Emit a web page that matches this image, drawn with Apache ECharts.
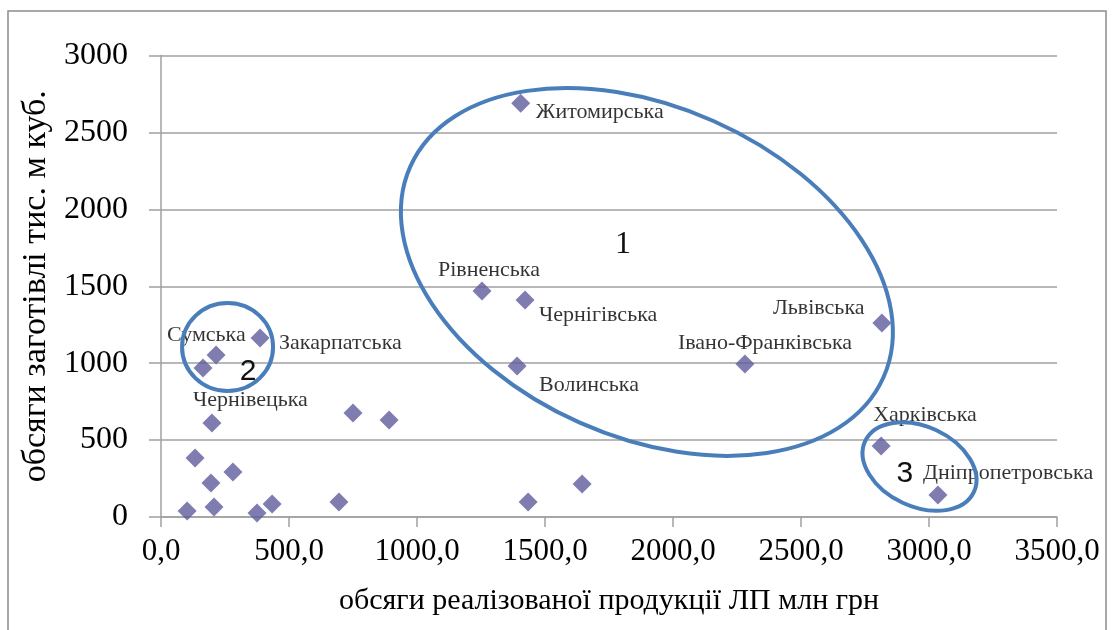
<!DOCTYPE html>
<html>
<head>
<meta charset="utf-8">
<script src="https://cdn.jsdelivr.net/npm/echarts@6/dist/echarts.min.js"></script>
<style>
  html, body { margin: 0; padding: 0; background: #fff; }
  #chart { width: 1112px; height: 630px; }
</style>
</head>
<body>
<div id="chart"></div>
<script>
// регіони (порожнє ім'я - без підпису)
const regionNames = [
  'Житомирська', 'Рівненська', 'Чернігівська', 'Волинська', 'Івано-Франківська', 'Львівська',
  'Закарпатська', 'Сумська', 'Чернівецька', '', '', '',
  '', '', '', '', '', '',
  '', '', '', '', 'Харківська', 'Дніпропетровська'
]
// обсяги реалізованої продукції ЛП, млн грн
const salesVolume = [
  1405, 1254, 1422, 1391, 2281, 2816,
  387, 215, 164, 199, 750, 891,
  133, 281, 195, 102, 207, 375,
  434, 695, 1434, 1645, 2813, 3035
]
// обсяги заготівлі, тис. м куб.
const harvestVolume = [
  2690, 1469, 1411, 982, 995, 1261,
  1164, 1053, 969, 611, 676, 631,
  384, 293, 221, 39, 65, 26,
  85, 98, 98, 215, 462, 143
]
const xTicks = { min: 0, max: 3500, step: 500 }
const yTicks = { min: 0, max: 3000, step: 500 }

// зсув підписів відносно точки (px)
const labelOffset = {
  'Житомирська': [15, 9],
  'Рівненська': [-44, -21],
  'Чернігівська': [14, 15],
  'Волинська': [22, 19],
  'Івано-Франківська': [-67, -21],
  'Львівська': [-109, -15],
  'Закарпатська': [19, 5],
  'Сумська': [-49, -20],
  'Чернівецька': [-10, 32],
  'Харківська': [-8, -31],
  'Дніпропетровська': [-15, -22]
}

// групи (центр у координатах даних), кут - за годинниковою стрілкою
const groups = [
  { text: '1', center: [1898, 1593], textAt: [1805, 1768], rx: 259, ry: 165, angle: 24, font: 'Liberation Serif', size: 32 },
  { text: '2', center: [260, 1105], textAt: [340, 943], rx: 45.5, ry: 44, angle: 0, font: 'Liberation Sans', size: 30 },
  { text: '3', center: [2963, 328], textAt: [2906, 280], rx: 60, ry: 40, angle: 25, font: 'Liberation Sans', size: 30 }
]

const serif = '"Liberation Serif", "DejaVu Serif", serif'
const gridColor = '#a0a0a0'

const points = salesVolume.map((x, i) => {
  const name = regionNames[i]
  const item = { name, value: [x, harvestVolume[i]] }
  if (name) {
    item.label = { show: true, offset: labelOffset[name] || [10, 0] }
  }
  return item
})

const chart = echarts.init(document.getElementById('chart'))

chart.setOption({
  animation: false,
  grid: { left: 161, right: 55, top: 55.5, bottom: 113 },
  xAxis: {
    type: 'value',
    min: xTicks.min, max: xTicks.max, interval: xTicks.step,
    name: 'обсяги реалізованої продукції ЛП млн грн',
    nameLocation: 'middle',
    nameGap: 69,
    nameTextStyle: { fontFamily: serif, fontSize: 30, color: '#000', verticalAlign: 'top' },
    axisLine: { show: true, lineStyle: { color: gridColor, width: 1.5 } },
    axisTick: { show: true, length: 10, lineStyle: { color: gridColor, width: 1.5 } },
    splitLine: { show: false },
    axisLabel: {
      margin: 19,
      fontFamily: serif, fontSize: 31, color: '#000',
      formatter: v => v.toFixed(1).replace('.', ',')
    }
  },
  yAxis: {
    type: 'value',
    min: yTicks.min, max: yTicks.max, interval: yTicks.step,
    name: 'обсяги заготівлі тис. м куб.',
    nameLocation: 'middle',
    nameRotate: 90,
    nameGap: 108,
    nameTextStyle: { fontFamily: serif, fontSize: 34, color: '#000' },
    axisLine: { show: true, lineStyle: { color: gridColor, width: 1.5 } },
    axisTick: { show: true, length: 12, lineStyle: { color: gridColor, width: 1.5 } },
    splitLine: { show: true, lineStyle: { color: gridColor, width: 1.5 } },
    axisLabel: {
      margin: 33, fontFamily: serif, fontSize: 32, color: '#000',
      formatter: v => String(v)
    }
  },
  series: [{
    type: 'scatter',
    symbol: 'diamond',
    symbolSize: 19,
    itemStyle: { color: '#5f5b9c' },
    label: {
      show: false,
      position: 'inside',
      align: 'left',
      verticalAlign: 'middle',
      fontFamily: serif,
      fontSize: 22,
      color: '#000',
      formatter: p => p.name
    },
    data: points,
    z: 3
  }]
})

// еліпси груп і рамка
const toPx = p => chart.convertToPixel({ gridIndex: 0 }, p)
const graphics = [{
  type: 'rect',
  shape: { x: 8, y: 11, width: 1098, height: 640 },
  style: { fill: 'none', stroke: '#8c8c8c', lineWidth: 1.5 },
  silent: true
}]
groups.forEach(g => {
  const c = toPx(g.center)
  const t = toPx(g.textAt)
  graphics.push({
    type: 'ellipse',
    x: c[0], y: c[1],
    // zrender: додатний кут - проти годинникової стрілки
    rotation: -g.angle * Math.PI / 180,
    shape: { cx: 0, cy: 0, rx: g.rx, ry: g.ry },
    style: { fill: 'none', stroke: '#4a7ebb', lineWidth: 4 },
    z: 10
  })
  graphics.push({
    type: 'text',
    x: t[0], y: t[1],
    style: {
      text: g.text, fontFamily: g.font, fontSize: g.size, fill: '#111',
      align: 'center', verticalAlign: 'middle'
    },
    z: 10
  })
})
chart.setOption({ graphic: graphics })
</script>
</body>
</html>
